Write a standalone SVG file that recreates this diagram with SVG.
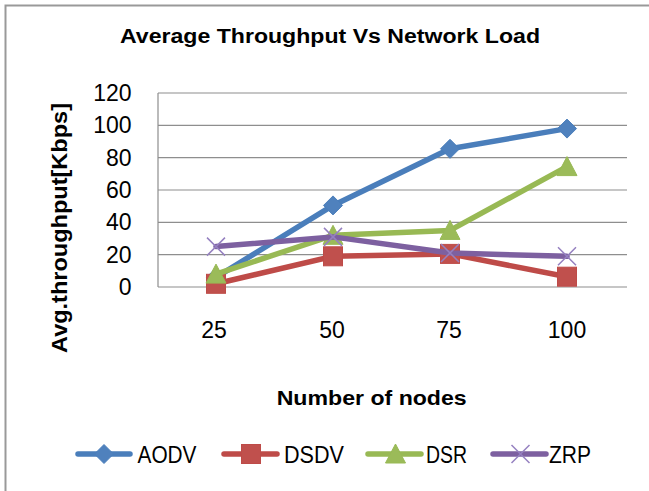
<svg xmlns="http://www.w3.org/2000/svg" width="649" height="491" viewBox="0 0 649 491">
<defs>
<style>
.txt{font-family:"Liberation Sans",Arial,sans-serif;fill:#000}
.tick{font-size:23px;text-anchor:end}
.cat{font-size:23px;text-anchor:middle}
.bold{font-weight:bold}
.grid{stroke:#8e8e8e;stroke-width:1.2;fill:none}
.ln{fill:none;stroke-width:5.5;stroke-linejoin:round;stroke-linecap:round}
.aodv{stroke:#4A7EBB}
.dsdv{stroke:#BE4B48}
.dsr{stroke:#98B954}
.zrp{stroke:#7D60A0}
</style>
<path id="m-diamond" d="M0,-9.5 L9.5,0 L0,9.5 L-9.5,0 Z" fill="#4F81BD" stroke="#4A7EBB" stroke-width="1"/>
<rect id="m-square" x="-9.5" y="-9.5" width="19" height="19" fill="#C0504D" stroke="#BE4B48" stroke-width="1"/>
<path id="m-tri" d="M0,-10 L10,9 L-10,9 Z" fill="#9BBB59" stroke="#98B954" stroke-width="1"/>
<path id="m-x" d="M-9,-9 L9,9 M-9,9 L9,-9" fill="none" stroke="#9580c0" stroke-width="1.5"/>
</defs>
<rect x="0" y="0" width="649" height="491" fill="#fff"/>
<rect x="5.5" y="5.5" width="700" height="600" fill="none" stroke="#999" stroke-width="2"/>

<g id="title">
<text class="txt bold" x="120" y="42.5" font-size="20" textLength="420" lengthAdjust="spacingAndGlyphs">Average Throughput Vs Network Load</text>
</g>

<g id="plot-area">
<line class="grid" x1="158" y1="93" x2="627" y2="93"/>
<line class="grid" x1="158" y1="125.3" x2="627" y2="125.3"/>
<line class="grid" x1="158" y1="157.7" x2="627" y2="157.7"/>
<line class="grid" x1="158" y1="190" x2="627" y2="190"/>
<line class="grid" x1="158" y1="222.3" x2="627" y2="222.3"/>
<line class="grid" x1="158" y1="254.7" x2="627" y2="254.7"/>
<line class="grid" x1="158" y1="287" x2="627" y2="287"/>
<line class="grid" x1="158" y1="93" x2="158" y2="287"/>
</g>

<g id="y-axis-labels">
<text class="txt tick" x="131.5" y="101">120</text>
<text class="txt tick" x="131.5" y="133.3">100</text>
<text class="txt tick" x="131.5" y="165.7">80</text>
<text class="txt tick" x="131.5" y="198">60</text>
<text class="txt tick" x="131.5" y="230.3">40</text>
<text class="txt tick" x="131.5" y="262.7">20</text>
<text class="txt tick" x="131.5" y="295">0</text>
</g>

<g id="y-axis-title">
<text class="txt bold" transform="translate(66.5,228) rotate(-90)" font-size="22" text-anchor="middle" textLength="250" lengthAdjust="spacingAndGlyphs">Avg.throughput[Kbps]</text>
</g>

<g id="x-axis-labels">
<text class="txt cat" x="214" y="337.8">25</text>
<text class="txt cat" x="332" y="337.8">50</text>
<text class="txt cat" x="449" y="337.8">75</text>
<text class="txt cat" x="567" y="337.8">100</text>
</g>

<g id="x-axis-title">
<text class="txt bold" x="276.7" y="405" font-size="21" textLength="190" lengthAdjust="spacingAndGlyphs">Number of nodes</text>
</g>

<g id="connectors">
<g id="series-aodv">
<polyline class="ln aodv" points="216,277.3 333,205.4 450,148.8 567,128.6"/>
<use href="#m-diamond" x="216" y="277.3"/>
<use href="#m-diamond" x="333" y="205.4"/>
<use href="#m-diamond" x="450" y="148.8"/>
<use href="#m-diamond" x="567" y="128.6"/>
</g>
<g id="series-dsdv">
<polyline class="ln dsdv" points="216,283.8 333,256.3 450,253.9 567,276.7"/>
<use href="#m-square" x="216" y="283.8"/>
<use href="#m-square" x="333" y="256.3"/>
<use href="#m-square" x="450" y="253.9"/>
<use href="#m-square" x="567" y="276.7"/>
</g>
<g id="series-dsr">
<polyline class="ln dsr" points="216,274.1 333,235.3 450,230.4 567,166.6"/>
<use href="#m-tri" x="216" y="274.1"/>
<use href="#m-tri" x="333" y="235.3"/>
<use href="#m-tri" x="450" y="230.4"/>
<use href="#m-tri" x="567" y="166.6"/>
</g>
<g id="series-zrp">
<polyline class="ln zrp" points="216,246.6 333,236.9 450,253 567,256.3"/>
<use href="#m-x" x="216" y="246.6"/>
<use href="#m-x" x="333" y="236.9"/>
<use href="#m-x" x="450" y="253"/>
<use href="#m-x" x="567" y="256.3"/>
</g>
</g>

<g id="legend">
<g id="legend-aodv">
<line class="ln aodv" x1="78" y1="454" x2="130" y2="454" stroke-width="5"/>
<use href="#m-diamond" x="104" y="454"/>
<text class="txt" x="137.5" y="462.5" font-size="23" textLength="59" lengthAdjust="spacingAndGlyphs">AODV</text>
</g>
<g id="legend-dsdv">
<line class="ln dsdv" x1="224" y1="454" x2="277" y2="454" stroke-width="5"/>
<use href="#m-square" x="251" y="454"/>
<text class="txt" x="284" y="462.5" font-size="23" textLength="60" lengthAdjust="spacingAndGlyphs">DSDV</text>
</g>
<g id="legend-dsr">
<line class="ln dsr" x1="368" y1="454" x2="421" y2="454" stroke-width="5"/>
<use href="#m-tri" x="395.5" y="454"/>
<text class="txt" x="426" y="462.5" font-size="23" textLength="41" lengthAdjust="spacingAndGlyphs">DSR</text>
</g>
<g id="legend-zrp">
<line class="ln zrp" x1="493" y1="454" x2="546" y2="454" stroke-width="5"/>
<use href="#m-x" x="520.5" y="454"/>
<text class="txt" x="549" y="462.5" font-size="23" textLength="42" lengthAdjust="spacingAndGlyphs">ZRP</text>
</g>
</g>
</svg>
